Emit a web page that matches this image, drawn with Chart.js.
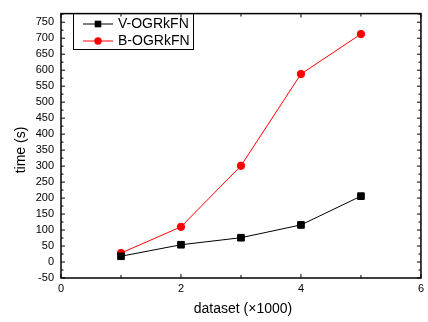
<!DOCTYPE html>
<html>
<head>
<meta charset="utf-8">
<script src="https://cdn.jsdelivr.net/npm/chart.js@4"></script>
<style>
    html, body { margin: 0; padding: 0; background: #fff; }
    #wrap { width: 428px; height: 322px; }
</style>
</head>
<body>
<div id="wrap"><canvas id="myChart"></canvas></div>
<script>
/* data */
const datasetSizes = [1, 2, 3, 4, 5];
const vOgrkfn = [18, 54, 76, 116, 206];
const bOgrkfn = [28, 110, 301, 588, 713];
const seriesNames = ['V-OGRkFN', 'B-OGRkFN'];
const xTicks = [0, 2, 4, 6];
const xMinorTicks = [1, 3, 5];
const yTicks = [-50, 0, 50, 100, 150, 200, 250, 300, 350, 400, 450, 500, 550, 600, 650, 700, 750];
const xTitle = 'dataset (\u00d71000)';
const yTitle = 'time (s)';

const font = 'Liberation Sans, Arial, sans-serif';

/* frame, inward ticks, titles, legend */
const framePlugin = {
    id: 'frame',
    afterDraw(chart) {
        const ctx = chart.ctx;
        const a = chart.chartArea;
        const xs = chart.scales.x;
        const ys = chart.scales.y;

        ctx.save();
        ctx.strokeStyle = '#000';
        ctx.lineWidth = 1;

        // ticks
        function xTick(v, len) {
            let px = xs.getPixelForValue(v);
            ctx.beginPath();
            ctx.moveTo(px, a.bottom); ctx.lineTo(px, a.bottom - len);
            ctx.moveTo(px, a.top); ctx.lineTo(px, a.top + len);
            ctx.stroke();
        }
        function yTick(v, len) {
            let py = ys.getPixelForValue(v);
            ctx.beginPath();
            ctx.moveTo(a.left, py); ctx.lineTo(a.left + len, py);
            ctx.moveTo(a.right, py); ctx.lineTo(a.right - len, py);
            ctx.stroke();
        }
        xTicks.forEach(function(v) { xTick(v, 4); });
        xMinorTicks.forEach(function(v) { xTick(v, 3); });
        yTicks.forEach(function(v) { yTick(v, 4); });
        for (let i = 0; i < yTicks.length - 1; i++) {
            yTick((yTicks[i] + yTicks[i + 1]) / 2, 2.5);
        }
        yTick(yTicks[yTicks.length - 1] + 25, 2.5);

        // frame
        ctx.lineWidth = 1.5;
        ctx.strokeRect(a.left, a.top, a.right - a.left, a.bottom - a.top);

        // axis titles
        ctx.fillStyle = '#000';
        ctx.font = '14px ' + font;
        ctx.textAlign = 'center';
        ctx.textBaseline = 'middle';
        ctx.fillText(xTitle, (a.left + a.right) / 2 + 2, 309);
        ctx.save();
        ctx.translate(21.5, 150);
        ctx.rotate(-Math.PI / 2);
        ctx.fillText(yTitle, 0, 0);
        ctx.restore();

        // legend
        ctx.lineWidth = 1;
        ctx.strokeRect(73.5, 13.5, 120, 36);
        ctx.textAlign = 'left';
        chart.data.datasets.forEach(function(ds, i) {
            let y = 24 + i * 17;
            ctx.strokeStyle = ds.borderColor;
            ctx.lineWidth = 1;
            ctx.beginPath();
            ctx.moveTo(83, y); ctx.lineTo(113, y);
            ctx.stroke();
            ctx.fillStyle = ds.backgroundColor;
            if (ds.pointStyle === 'rect') {
                ctx.fillRect(98 - 3.3, y - 3.3, 6.6, 6.6);
            } else {
                ctx.beginPath();
                ctx.arc(98, y, 3.7, 0, Math.PI * 2);
                ctx.fill();
            }
            ctx.fillStyle = '#000';
            ctx.fillText(ds.label, 118, y + 0.5);
        });
        ctx.restore();
    }
};

const ctx = document.getElementById('myChart');
const myChart = new Chart(ctx, {
    type: 'line',
    data: {
        datasets: [{
            label: seriesNames[0],
            data: datasetSizes.map(function(x, i) { return { x: x, y: vOgrkfn[i] }; }),
            borderColor: '#000000',
            backgroundColor: '#000000',
            borderWidth: 1,
            pointStyle: 'rect',
            pointRadius: 4.7,
            tension: 0
        }, {
            label: seriesNames[1],
            data: datasetSizes.map(function(x, i) { return { x: x, y: bOgrkfn[i] }; }),
            borderColor: '#ff0000',
            backgroundColor: '#ff0000',
            borderWidth: 1,
            pointStyle: 'circle',
            pointRadius: 3.7,
            tension: 0
        }]
    },
    options: {
        responsive: true,
        maintainAspectRatio: false,
        animation: false,
        layout: { padding: { top: 5, right: 4, left: 0, bottom: 0 } },
        plugins: {
            legend: { display: false },
            tooltip: { enabled: false }
        },
        scales: {
            x: {
                type: 'linear',
                min: 0,
                max: 6,
                grid: { display: false, drawTicks: false },
                border: { display: false },
                afterBuildTicks: function(scale) {
                    scale.ticks = xTicks.map(function(v) { return { value: v }; });
                },
                afterFit: function(scale) { scale.height = 44; },
                ticks: {
                    padding: 4,
                    color: '#000',
                    font: { family: font, size: 11 },
                    maxRotation: 0
                }
            },
            y: {
                type: 'linear',
                min: -50,
                max: 777,
                grid: { display: false, drawTicks: false },
                border: { display: false },
                afterBuildTicks: function(scale) {
                    scale.ticks = yTicks.map(function(v) { return { value: v }; });
                },
                afterFit: function(scale) { scale.width = 61; },
                ticks: {
                    padding: 7,
                    color: '#000',
                    font: { family: font, size: 11 }
                }
            }
        }
    },
    plugins: [framePlugin]
});
</script>
</body>
</html>
